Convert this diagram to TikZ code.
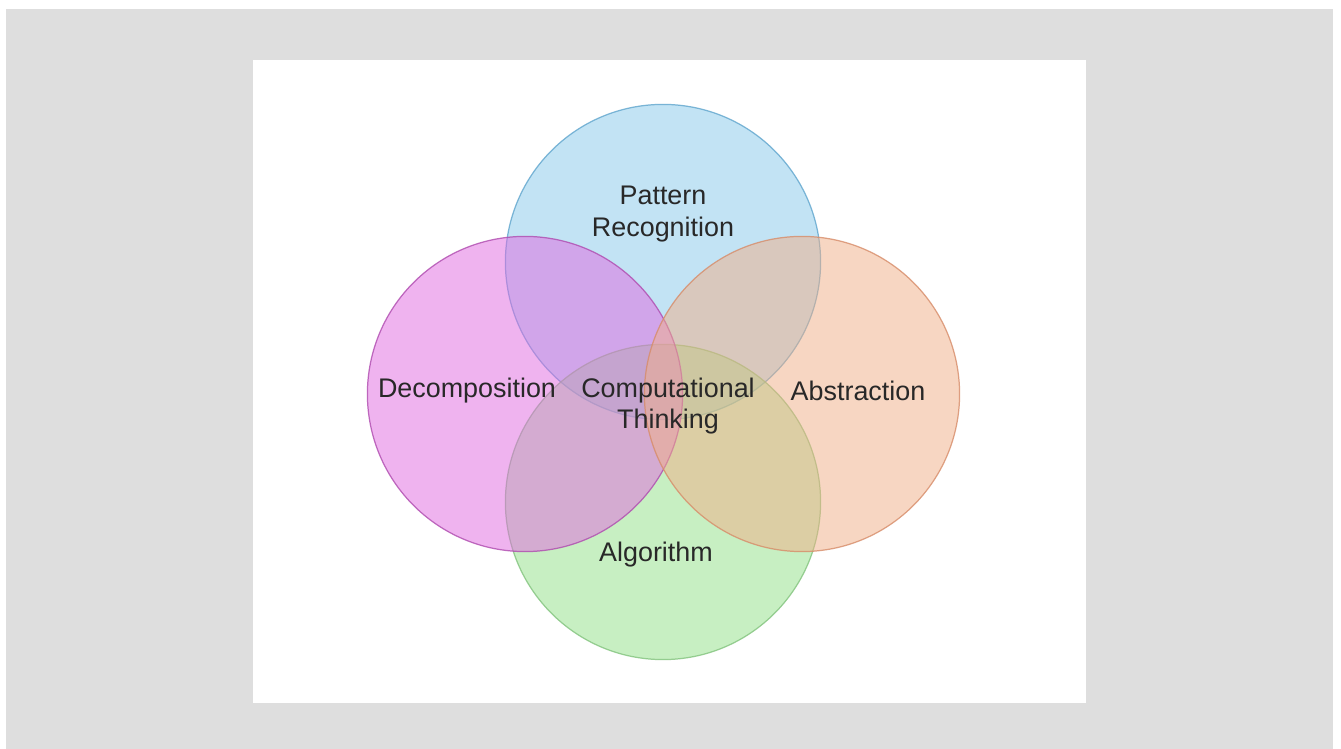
\documentclass[tikz,border=0pt]{standalone}
\usepackage{fontspec}
\setmainfont{Liberation Sans}
\usepackage{tikz}

\definecolor{bluefill}{RGB}{135,201,235}
\definecolor{bluedraw}{RGB}{95,165,205}
\definecolor{pinkfill}{RGB}{225,105,225}
\definecolor{pinkdraw}{RGB}{175,75,175}
\definecolor{orangefill}{RGB}{241,175,135}
\definecolor{orangedraw}{RGB}{215,140,105}
\definecolor{greenfill}{RGB}{145,225,135}
\definecolor{greendraw}{RGB}{130,195,125}
\definecolor{textgray}{RGB}{40,40,40}
\definecolor{paper}{RGB}{222,222,222}

\begin{document}
\begin{tikzpicture}[x=0.01cm, y=-0.01cm,
    set/.style={circle, minimum size=3.15cm, inner sep=0pt, fill opacity=0.5, draw opacity=0.8, line width=0.35pt},
    lbl/.style={text=textgray, align=center, font=\fontsize{7.65}{8.9}\selectfont}]
                \useasboundingbox (0,0) rectangle (1341,749);
                \fill[paper] (6,9) rectangle (1333,749);
                \fill[white] (253,60) rectangle (1086,703);
                % the four sets
                \node[set, fill=bluefill, draw=bluedraw] (pattern) at (663,262) {};
                \node[set, fill=greenfill, draw=greendraw] (algo) at (663,502) {};
                \node[set, fill=pinkfill, draw=pinkdraw] (decomp) at (525,394) {};
                \node[set, fill=orangefill, draw=orangedraw] (abstr) at (802,394) {};
                % labels
                \node[lbl] (patternlbl) at (663,214) {Pattern\\Recognition};
                \node[lbl] (decomplbl) at (467,391) {Decomposition};
                \node[lbl] (abstrlbl) at (858,391) {Abstraction};
                \node[lbl] (algolbl) at (656,555) {Algorithm};
                \node[lbl] (ctlbl) at (668,406) {Computational\\Thinking};
            \end{tikzpicture}
\end{document}
